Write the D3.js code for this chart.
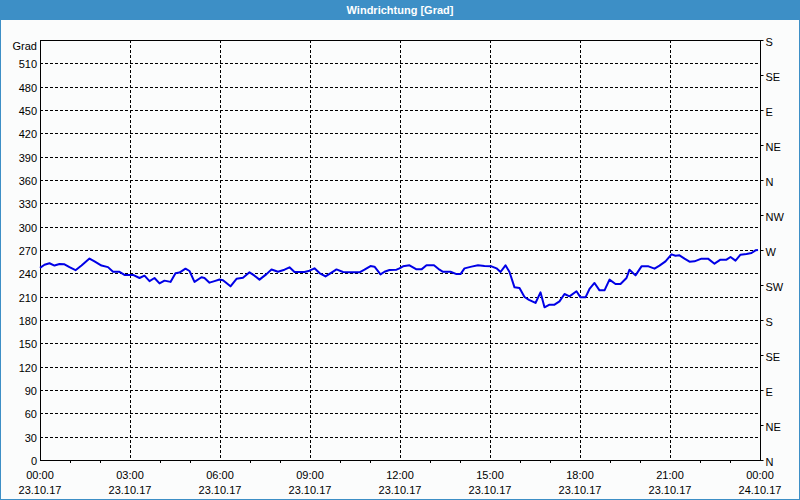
<!DOCTYPE html>
<html>
<head>
<meta charset="utf-8">
<script src="https://cdn.jsdelivr.net/npm/d3@7"></script>
<style>
  html, body { margin: 0; padding: 0; background: #fbfcfc; }
  svg { display: block; }
  text { font-family: "Liberation Sans", "DejaVu Sans", sans-serif; font-size: 11px; fill: #000; }
</style>
</head>
<body>
<script>
// Minutes since 23.10.17 00:00
const minutes = [0, 9, 19, 29, 39, 49, 59, 71, 83, 99, 109, 123, 136, 146, 159, 169, 186, 199, 209, 219, 229, 239, 249, 261, 271, 279, 291, 299, 309, 323, 329, 339, 349, 359,
  366, 381, 393, 406, 419, 429, 439, 453, 463, 476, 489, 499, 509, 529, 539, 549, 559, 571, 583, 593, 606, 619, 639, 649, 661, 669, 681, 689, 699, 713, 719,
  726, 739, 753, 763, 773, 788, 799, 806, 821, 833, 841, 849, 863, 876, 889, 903, 913, 921, 931, 939, 949, 959, 969, 978, 991, 1001, 1009, 1019, 1029, 1039, 1049, 1059, 1073,
  1081, 1091, 1099, 1109, 1119, 1129, 1139, 1151, 1161, 1173, 1179, 1191, 1203, 1217, 1229, 1239, 1251, 1263, 1271, 1279, 1289, 1299, 1309, 1323, 1336, 1349, 1361, 1373, 1381, 1391, 1401, 1413, 1423, 1431, 1436];
const direction = [247, 251, 253, 250, 252, 251.6, 248, 244, 250, 259, 255.4, 250, 248, 242, 242, 238, 238, 234, 237, 230, 234, 227, 230.6, 229, 240, 241, 246, 243, 229, 235, 234, 228, 230, 232,
  231, 223.3, 233, 234.4, 241.3, 237, 231.9, 239, 245, 242, 244.7, 247.7, 241.7, 241.7, 243.4, 246.4, 240.4, 236, 240.9, 245, 241.7, 241.3, 241.3, 244.7, 249.4, 248.6, 238.7, 242, 244.3, 244.7, 246.4,
  249, 250.3, 245.1, 245.1, 250.3, 250.3, 244.7, 242, 242, 239, 239, 246.4, 248.6, 250.3, 249.4, 249, 246.4, 241.7, 250.3, 241.7, 222, 221.1, 209.6, 206, 201.9, 215.6, 196.3, 199.7, 199.7, 204, 213.4, 210.4, 216.9,
  209.1, 209.1, 219.9, 227.6, 218.1, 218.1, 231.9, 226.3, 226.3, 234, 244.7, 237.4, 249, 249, 246, 249.9, 255.4, 264.4, 262.7, 263.1, 258.9, 255, 255.4, 258.9, 258.9, 252.4, 257.6, 257.6, 261, 256.3, 264, 264.9, 266.1, 269.6, 270];

const leftTicks = d3.range(0, 511, 30);
const rightTickValues = d3.range(0, 541, 45);
const rightTickLabels = ["N", "NE", "E", "SE", "S", "SW", "W", "NW", "N", "NE", "E", "SE", "S"];
const xMajorHours = [0, 3, 6, 9, 12, 15, 18, 21, 24];
const xTimeLabels = ["00:00", "03:00", "06:00", "09:00", "12:00", "15:00", "18:00", "21:00", "00:00"];
const xDateLabels = ["23.10.17", "23.10.17", "23.10.17", "23.10.17", "23.10.17", "23.10.17", "23.10.17", "23.10.17", "24.10.17"];
const title = "Windrichtung [Grad]";
const unitLabel = "Grad";

const W = 800, H = 500;
const L = 40, R = 760, T = 40, B = 460;

const svg = d3.select("body").append("svg").attr("width", W).attr("height", H);

// background & frame
svg.append("rect").attr("x", 0).attr("y", 0).attr("width", W).attr("height", H).attr("fill", "#fbfcfc");
svg.append("rect").attr("x", 0).attr("y", 0).attr("width", W).attr("height", 20).attr("fill", "#3d8fc6");
svg.append("rect").attr("x", 0.5).attr("y", 0.5).attr("width", W - 1).attr("height", H - 1)
  .attr("fill", "none").attr("stroke", "#3d8fc6").attr("stroke-width", 1);
svg.append("text").attr("x", W / 2).attr("y", 14).attr("text-anchor", "middle")
  .style("font-weight", "bold").style("fill", "#ffffff").text(title);

const x = d3.scaleLinear().domain([0, 24 * 60]).range([L, R]);
const y = d3.scaleLinear().domain([0, 540]).range([B, T]);

// horizontal gridlines
const g = svg.append("g");
g.selectAll("line.hg").data(leftTicks.filter(d => d > 0)).enter().append("line")
  .attr("x1", L).attr("x2", R)
  .attr("y1", d => Math.round(y(d)) + 0.5).attr("y2", d => Math.round(y(d)) + 0.5)
  .attr("stroke", "#000").attr("stroke-dasharray", "3,2").attr("stroke-width", 1);
// vertical gridlines
g.selectAll("line.vg").data(xMajorHours.filter(h => h > 0 && h < 24)).enter().append("line")
  .attr("x1", d => Math.round(x(d * 60)) + 0.5).attr("x2", d => Math.round(x(d * 60)) + 0.5)
  .attr("y1", T).attr("y2", B)
  .attr("stroke", "#000").attr("stroke-dasharray", "3,2").attr("stroke-width", 1);

// left axis
const leftAxis = d3.axisLeft(y).tickValues(leftTicks).tickSize(0).tickPadding(4).tickFormat(d3.format("d"));
const ga = svg.append("g").attr("transform", `translate(${L},0)`).call(leftAxis);
ga.select(".domain").remove();
ga.selectAll("text").style("font-family", "Liberation Sans, DejaVu Sans, sans-serif").style("font-size", "11px")
  .attr("x", -3).attr("dy", "0.42em");
svg.append("text").attr("x", 37).attr("y", 50).attr("text-anchor", "end").text(unitLabel);

// right axis
const rightAxis = d3.axisRight(y).tickValues(rightTickValues).tickSize(3).tickPadding(2)
  .tickFormat((d, i) => rightTickLabels[i]);
const gr = svg.append("g").attr("transform", `translate(${R + 0.5},0)`).call(rightAxis);
gr.select(".domain").remove();
gr.selectAll("text").style("font-family", "Liberation Sans, DejaVu Sans, sans-serif").style("font-size", "11px")
  .attr("dy", "0.5em");
gr.selectAll("line").attr("stroke", "#000");

// bottom axis minor ticks
const minorHours = d3.range(1, 24).filter(h => h % 3 !== 0);
const gb = svg.append("g").attr("transform", `translate(0,${B})`);
gb.call(d3.axisBottom(x).tickValues(minorHours.map(h => h * 60)).tickSize(3).tickFormat(""));
gb.select(".domain").remove();
// bottom labels
const lab = svg.append("g");
lab.selectAll("text.t").data(xMajorHours).enter().append("text")
  .attr("x", d => x(d * 60)).attr("y", 479).attr("text-anchor", "middle").text((d, i) => xTimeLabels[i]);
lab.selectAll("text.d").data(xMajorHours).enter().append("text")
  .attr("x", d => x(d * 60)).attr("y", 494).attr("text-anchor", "middle").text((d, i) => xDateLabels[i]);

// plot frame
svg.append("rect").attr("x", L + 0.5).attr("y", T + 0.5).attr("width", R - L).attr("height", B - T)
  .attr("fill", "none").attr("stroke", "#000").attr("stroke-width", 1);

// data line
const data = minutes.map((m, i) => ({ m, v: direction[i] }));
svg.append("path").datum(data)
  .attr("fill", "none").attr("stroke", "#0000e6").attr("stroke-width", 2).attr("stroke-linejoin", "round")
  .attr("d", d3.line().x(d => x(d.m)).y(d => y(d.v)));
</script>
</body>
</html>
